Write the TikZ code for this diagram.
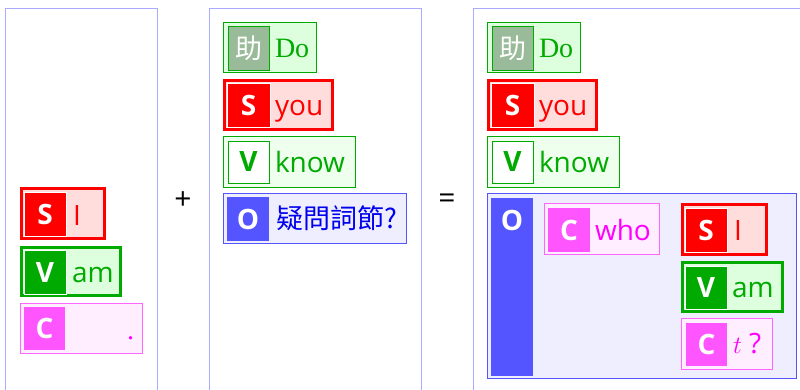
\documentclass[tikz,border=0pt]{standalone}
\usepackage{fontspec}
\setmainfont{Open Sans}
\newfontfamily\serifx{Liberation Serif}
\newfontfamily\cjk{Noto Sans CJK TC}
\definecolor{cpanel}{HTML}{AAAAFF}
\definecolor{cred}{HTML}{FF0000}
\definecolor{cpink}{HTML}{FFDDDD}
\definecolor{cgreen}{HTML}{00AA00}
\definecolor{clgreen}{HTML}{DDFFDD}
\definecolor{cvlgreen}{HTML}{EEFFEE}
\definecolor{cgrey}{HTML}{99BB99}
\definecolor{cblue}{HTML}{5555FF}
\definecolor{clblue}{HTML}{EEEEFF}
\definecolor{ctblue}{HTML}{0000EE}
\definecolor{cmag}{HTML}{FF66FF}
\definecolor{clmag}{HTML}{FFEEFF}
\definecolor{cmagsq}{HTML}{FF55FF}
\definecolor{ctmag}{HTML}{FF00FF}
\tikzset{
  sq/.style={inner sep=0pt, outer sep=0pt, anchor=center},
  panel/.style={inner sep=0pt, outer sep=0pt, anchor=north west, draw=cpanel, line width=1pt},
  redbox/.style={sq, draw=cred, line width=3pt, fill=cpink},
  gthick/.style={sq, draw=cgreen, line width=3pt, fill=clgreen},
  gthin/.style={sq, draw=cgreen, line width=1pt, fill=clgreen},
  gthinv/.style={sq, draw=cgreen, line width=1pt, fill=cvlgreen},
  bbox/.style={sq, draw=cblue, line width=1pt, fill=clblue},
  mbox/.style={sq, draw=cmag, line width=1pt, fill=clmag},
  lab/.style={sq, text=white, font=\fontsize{28}{28}\selectfont\bfseries},
  redsq/.style={lab, fill=cred, draw=white, line width=1pt},
  greensq/.style={lab, fill=cgreen, draw=white, line width=1pt},
  auxsq/.style={sq, fill=cgrey, draw=cgreen, line width=1pt, text=white, font=\fontsize{27}{27}\selectfont\cjk},
  vsq/.style={sq, fill=white, draw=cgreen, line width=1pt, text=cgreen, font=\fontsize{28}{28}\selectfont\bfseries},
  bluesq/.style={lab, fill=cblue},
  magsq/.style={lab, fill=cmagsq},
  word/.style={anchor=base west, inner sep=0pt, outer sep=0pt, font=\fontsize{28}{28}\selectfont},
  serifword/.style={word, font=\fontsize{28}{28}\selectfont\serifx},
  op/.style={inner sep=0pt, font=\fontsize{30}{30}\selectfont},
}
\begin{document}
\begin{tikzpicture}[x=1pt,y=-1pt]
\useasboundingbox (0,0) rectangle (800,389);
% panels
\node[panel, minimum width=152, minimum height=400] (pan1) at (5.5,8.5) {};
\node[panel, minimum width=212, minimum height=400] (pan2) at (209.5,8.5) {};
\node[panel, minimum width=340, minimum height=400] (pan3) at (473.5,8.5) {};
\node[op] (plus) at (183,201) {+};
\node[op] (eq) at (447,201) {=};

% ---- panel 1
\node[redbox, minimum width=83, minimum height=50] (a1) at (63,213.5) {};
\node[redsq, minimum width=42, minimum height=44] (a1l) at (45,214) {S};
\node[word, text=cred] (a1w) at (73,225) {I};

\node[gthick, minimum width=99, minimum height=48] (a2) at (71,271.5) {};
\node[greensq, minimum width=42, minimum height=44] (a2l) at (45,272) {V};
\node[word, text=cgreen] (a2w) at (72,282) {am};

\node[mbox, minimum width=122, minimum height=50] (a3) at (81.5,328.5) {};
\node[magsq, minimum width=41, minimum height=43] (a3l) at (44.5,328.5) {C};
\node[serifword, text=ctmag] (a3w) at (127,339) {.};

% ---- panel 2
\node[gthin, minimum width=93, minimum height=50] (b1) at (270,47.5) {};
\node[auxsq, minimum width=41, minimum height=44] (b1l) at (248.5,48) {助};
\node[serifword, text=cgreen] (b1w) at (275,57.5) {Do};

\node[redbox, minimum width=108, minimum height=49] (b2) at (278.5,105) {};
\node[redsq, minimum width=43, minimum height=44] (b2l) at (248.5,105) {S};
\node[word, text=cred] (b2w) at (275,115.5) {you};

\node[gthinv, minimum width=132, minimum height=51] (b3) at (289.5,162) {};
\node[vsq, minimum width=41, minimum height=42] (b3l) at (248.5,162) {V};
\node[word, text=cgreen] (b3w) at (275,172.5) {know};

\node[bbox, minimum width=183, minimum height=50] (b4) at (315,218.5) {};
\node[bluesq, minimum width=42, minimum height=44] (b4l) at (248,219) {O};
\node[word, text=ctblue, font=\fontsize{27}{27}\selectfont\cjk] (b4w) at (276,228.5) {疑問詞節?};

% ---- panel 3
\node[gthin, minimum width=93, minimum height=50] (c1) at (534,47.5) {};
\node[auxsq, minimum width=41, minimum height=44] (c1l) at (512.5,48) {助};
\node[serifword, text=cgreen] (c1w) at (539,57.5) {Do};

\node[redbox, minimum width=108, minimum height=49] (c2) at (542.5,105) {};
\node[redsq, minimum width=43, minimum height=44] (c2l) at (512.5,105) {S};
\node[word, text=cred] (c2w) at (539,115.5) {you};

\node[gthinv, minimum width=132, minimum height=51] (c3) at (553,162) {};
\node[vsq, minimum width=41, minimum height=42] (c3l) at (512.5,162) {V};
\node[word, text=cgreen] (c3w) at (539,172.5) {know};

\node[bbox, minimum width=309, minimum height=185] (c4) at (642,286) {};
\node[sq, fill=cblue, minimum width=42, minimum height=178] (c4l) at (512,287) {};
\node[lab] (c4t) at (512,220) {O};

\node[mbox, minimum width=115, minimum height=51] (d1) at (602,229) {};
\node[magsq, minimum width=42, minimum height=44] (d1l) at (569,230) {C};
\node[word, text=ctmag] (d1w) at (595,240) {who};

\node[redbox, minimum width=84, minimum height=50] (d2) at (724.5,229.5) {};
\node[redsq, minimum width=42, minimum height=44] (d2l) at (706,230) {S};
\node[word, text=cred] (d2w) at (734,240.5) {I};

\node[gthick, minimum width=100, minimum height=49] (d3) at (732.5,287) {};
\node[greensq, minimum width=42, minimum height=43] (d3l) at (706,287.5) {V};
\node[word, text=cgreen] (d3w) at (732,297.5) {am};

\node[mbox, minimum width=91, minimum height=51] (d4) at (727,344) {};
\node[magsq, minimum width=41, minimum height=43] (d4l) at (706.5,344.5) {C};
\node[word, text=ctmag] (d4w) at (733,353.5) {\fontsize{28}{28}\selectfont$t$ ?};
\end{tikzpicture}
\end{document}
